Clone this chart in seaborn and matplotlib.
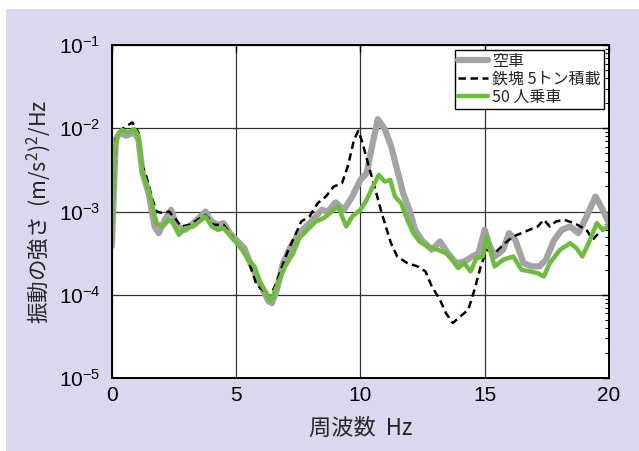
import numpy as np
import pandas as pd
import seaborn as sns
import matplotlib.pyplot as plt
from matplotlib.patches import Rectangle
from matplotlib.ticker import LogLocator, NullFormatter

# values: frequency (Hz) and log10 of PSD ((m/s^2)^2/Hz)
empty_hz = [0, 0.16, 0.33, 0.57, 0.9, 1.07, 1.23, 1.48, 1.72, 1.89, 2.13, 2.38, 2.62, 2.95,
            3.28, 3.77, 4.0, 4.26, 4.5, 4.75, 5.0, 5.33, 5.57, 5.82, 6.07, 6.31, 6.44, 6.64,
            6.89, 7.2, 7.54, 7.95, 8.44, 8.69, 9.0, 9.34, 9.67, 10.0, 10.25, 10.5, 10.7,
            10.98, 11.23, 11.48, 11.72, 11.97, 12.2, 12.46, 12.87, 13.2, 13.52, 13.85, 14.2,
            14.5, 14.75, 15.0, 15.16, 15.4, 15.74, 15.98, 16.23, 16.56, 16.89, 17.2, 17.46,
            17.8, 18.1, 18.44, 18.77, 19.1, 19.46, 19.75, 20.0]
empty_log = [-3.42, -2.13, -2.05, -2.09, -2.05, -2.13, -2.53, -2.78, -3.18, -3.26, -3.10, -2.98,
             -3.18, -3.22, -3.14, -3.0, -3.12, -3.16, -3.14, -3.26, -3.34, -3.44, -3.62, -3.78,
             -3.94, -4.08, -4.10, -3.94, -3.62, -3.42, -3.26, -3.14, -2.98, -3.0, -2.89, -2.98,
             -2.82, -2.62, -2.54, -2.17, -1.89, -2.01, -2.21, -2.50, -2.78, -2.98, -3.22, -3.34,
             -3.46, -3.36, -3.50, -3.62, -3.60, -3.54, -3.50, -3.22, -3.38, -3.54, -3.46, -3.26,
             -3.34, -3.62, -3.66, -3.66, -3.58, -3.34, -3.22, -3.18, -3.26, -3.06, -2.82, -2.98,
             -3.14]

iron_hz = [0, 0.16, 0.41, 0.82, 1.07, 1.23, 1.39, 1.64, 1.8, 2.05, 2.3, 2.54, 2.79, 3.11, 3.44,
           3.77, 4.1, 4.5, 4.84, 5.16, 5.49, 5.82, 6.07, 6.31, 6.56, 6.8, 7.05, 7.38, 7.62,
           7.95, 8.28, 8.61, 8.93, 9.26, 9.5, 9.75, 9.92, 10.08, 10.33, 10.57, 10.82, 10.98,
           11.23, 11.48, 11.89, 12.3, 12.62, 12.87, 13.2, 13.44, 13.72, 14.02, 14.34, 14.59,
           14.84, 15.08, 15.4, 15.82, 16.15, 16.48, 16.8, 17.13, 17.38, 17.62, 17.87, 18.2,
           18.6, 18.85, 19.1, 19.34, 19.59, 20.0]
iron_log = [-3.34, -2.13, -2.01, -1.93, -2.05, -2.45, -2.58, -2.86, -3.0, -3.02, -3.0, -3.08,
            -3.18, -3.16, -3.10, -3.04, -3.16, -3.16, -3.30, -3.44, -3.58, -3.88, -3.94, -4.04,
            -3.90, -3.70, -3.50, -3.28, -3.12, -3.06, -2.90, -2.82, -2.70, -2.66, -2.45, -2.13,
            -2.03, -2.17, -2.45, -2.70, -2.98, -3.14, -3.38, -3.54, -3.62, -3.66, -3.72, -3.90,
            -4.06, -4.22, -4.34, -4.26, -4.18, -3.94, -3.66, -3.46, -3.50, -3.38, -3.30, -3.26,
            -3.22, -3.18, -3.10, -3.18, -3.12, -3.10, -3.14, -3.18, -3.22, -3.34, -3.26, -3.18]

people_hz = [0, 0.11, 0.25, 0.41, 0.66, 0.9, 1.07, 1.23, 1.48, 1.8, 2.05, 2.3, 2.46, 2.7, 2.95,
             3.28, 3.77, 4.02, 4.26, 4.5, 4.84, 5.16, 5.49, 5.74, 5.98, 6.23, 6.39, 6.64, 6.97,
             7.3, 7.54, 7.87, 8.2, 8.52, 8.77, 9.1, 9.43, 9.67, 10.0, 10.25, 10.5, 10.74, 10.98,
             11.2, 11.39, 11.64, 11.89, 12.13, 12.38, 12.7, 13.11, 13.44, 13.69, 13.93, 14.18,
             14.43, 14.67, 14.92, 15.08, 15.25, 15.4, 15.74, 16.15, 16.48, 16.8, 17.13, 17.38,
             17.62, 18.03, 18.44, 18.69, 18.93, 19.18, 19.51, 19.75, 20.0]
people_log = [-3.30, -2.25, -2.09, -2.02, -2.05, -2.01, -2.09, -2.53, -2.74, -3.14, -3.18, -3.10,
              -3.14, -3.28, -3.20, -3.18, -3.06, -3.18, -3.22, -3.20, -3.32, -3.42, -3.58, -3.66,
              -3.86, -3.98, -4.08, -3.90, -3.66, -3.50, -3.32, -3.22, -3.12, -3.08, -3.02, -2.94,
              -3.18, -3.06, -2.98, -2.86, -2.70, -2.56, -2.64, -2.62, -2.82, -2.90, -3.10, -3.26,
              -3.36, -3.42, -3.46, -3.50, -3.58, -3.68, -3.62, -3.72, -3.56, -3.54, -3.30, -3.50,
              -3.66, -3.58, -3.54, -3.70, -3.72, -3.74, -3.78, -3.62, -3.46, -3.38, -3.44, -3.54,
              -3.38, -3.14, -3.22, -3.18]

labels = ["空車", "鉄塊 5トン積載", "50 人乗車"]

sns.set_style("white")
plt.rcParams["font.family"] = ["Liberation Sans", "Noto Sans CJK JP", "DejaVu Sans"]
plt.rcParams["mathtext.default"] = "regular"
cjk = ["Noto Sans CJK JP", "DejaVu Sans"]

fig = plt.figure(figsize=(6.39, 4.51), dpi=100)
fig.patch.set_facecolor("white")
fig.patches.append(Rectangle((6 / 639, 0), 1, 1 - 9 / 451, transform=fig.transFigure,
                             facecolor="#d8d9ee", edgecolor="none", zorder=-1))
ax = fig.add_axes([0.175, 0.162, 0.778, 0.738])
ax.set_facecolor("white")

df_empty = pd.DataFrame({"f": empty_hz, "p": 10 ** np.array(empty_log)})
df_iron = pd.DataFrame({"f": iron_hz, "p": 10 ** np.array(iron_log)})
df_people = pd.DataFrame({"f": people_hz, "p": 10 ** np.array(people_log)})

sns.lineplot(data=df_empty, x="f", y="p", ax=ax, color="#a3a3a3", lw=4.5, label=labels[0])
sns.lineplot(data=df_iron, x="f", y="p", ax=ax, color="black", lw=1.8, label=labels[1])
ax.lines[-1].set_dashes([3.0, 1.8])
sns.lineplot(data=df_people, x="f", y="p", ax=ax, color="#6cbd3a", lw=3.2, label=labels[2])

ax.set_yscale("log")
ax.set_xlim(0, 20)
ax.set_ylim(1e-5, 1e-1)
ax.set_xticks([0, 5, 10, 15, 20])
ax.yaxis.set_major_locator(LogLocator(base=10, numticks=10))
ax.yaxis.set_minor_locator(LogLocator(base=10, subs=np.arange(2, 10), numticks=20))
ax.yaxis.set_minor_formatter(NullFormatter())
ax.grid(True, which="major", color="#333333", lw=0.9)
ax.tick_params(which="both", direction="in", top=True, right=True, colors="black",
               labelsize=15)
ax.tick_params(which="major", length=5, width=1)
ax.tick_params(which="minor", length=3, width=0.8)
ax.tick_params(axis="x", pad=6)
ax.tick_params(axis="y", pad=8)
for s in ax.spines.values():
    s.set_color("black")
    s.set_linewidth(1.4)

ax.set_xlabel("周波数  Hz", fontsize=16, labelpad=8, family=cjk)
ax.set_ylabel("振動の強さ  (m/s$^2$)$^2$/Hz", fontsize=15.5, family=cjk)
ax.yaxis.set_label_coords(-0.118, 0.5)

leg = ax.legend(loc="upper right", frameon=True, fancybox=False,
                edgecolor="black", framealpha=1, handlelength=1.9, handletextpad=0.25,
                labelspacing=0.05, borderpad=0.2, borderaxespad=0.3,
                prop={"family": cjk, "size": 11.5})
leg.get_frame().set_linewidth(1.0)

fig.savefig("out.png", dpi=100)
